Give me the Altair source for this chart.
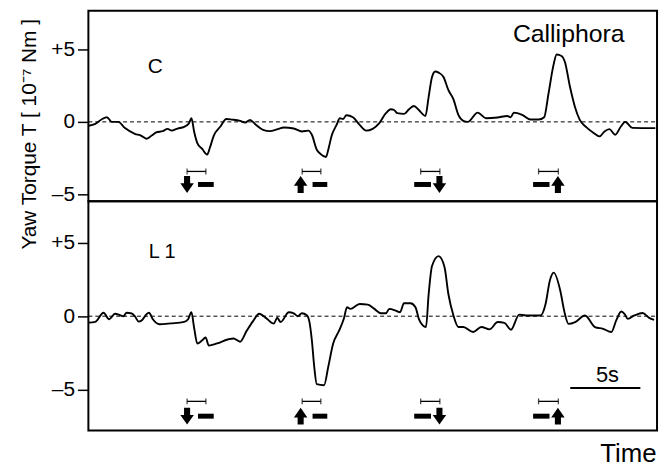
import altair as alt
import pandas as pd

# ---- traced data (time in s, yaw torque in 1e-7 Nm) ----
T_C = [0.02, 0.49, 0.96, 1.32, 1.67, 2.13, 2.61, 3.31, 3.78, 4.13, 4.49, 4.84, 5.30, 5.65, 5.94, 6.36, 6.83,
       7.18, 7.35, 7.54, 7.77, 8.12, 8.47, 8.66, 8.94, 9.42, 9.84, 10.23, 10.82, 11.18, 11.53, 11.88, 12.46,
       12.94, 13.52, 13.94, 14.65, 15.23, 15.70, 15.94, 16.29, 16.53, 16.95, 17.11, 17.35, 17.70, 17.94, 18.17,
       18.40, 18.87, 19.35, 19.81, 20.28, 20.75, 21.22, 21.57, 21.81, 22.04, 22.51, 22.87, 23.22, 23.57, 24.04,
       24.27, 24.51, 24.74, 24.98, 25.33, 25.68, 26.04, 26.39, 26.74, 27.06, 27.77, 28.36, 29.18, 29.88, 30.12,
       30.35, 30.94, 31.53, 32.11, 32.51, 32.82, 33.17, 33.40, 33.75, 33.99, 34.35, 34.70, 35.05, 35.51, 35.99,
       36.46, 36.81, 37.16, 37.58, 37.98, 38.29, 38.80, 40.44]
V_C = [-0.27, -0.14, 0.18, 0.32, 0.0, 0.0, -0.43, -0.82, -0.96, -1.16, -0.96, -0.73, -0.64, -0.48, -0.60, -0.46, -0.34,
       -0.09, 0.25, -0.66, -1.46, -1.87, -2.26, -1.80, -0.96, -0.32, 0.20, 0.16, 0.07, -0.05, 0.14, -0.14, -0.55,
       -0.64, -0.50, -0.39, -0.46, -0.66, -0.60, -0.89, -1.92, -2.19, -2.42, -1.92, -0.96, -0.21, 0.25, 0.20,
       0.46, 0.32, -0.21, -0.60, -0.48, -0.09, 0.60, 0.87, 0.82, 0.60, 0.55, 0.87, 1.10, 0.82, 0.41,
       1.73, 3.10, 3.48, 3.40, 3.10, 2.19, 1.55, 0.48, 0.07, 0.0, 0.64, 0.25, 0.30, 0.41, 0.32,
       0.64, 0.48, 0.16, 0.16, 0.32, 1.96, 3.90, 4.65, 4.55, 4.13, 2.42, 1.05, 0.14, -0.36, -0.73,
       -1.00, -0.66, -0.50, -0.89, -0.32, 0.0, -0.41, -0.43]

T_L1 = [0.02, 0.49, 1.08, 1.48, 1.90, 2.25, 2.49, 2.73, 3.08, 3.31, 3.59, 3.82, 4.13, 4.32, 4.60, 5.07, 5.89,
        6.83, 7.11, 7.35, 7.54, 7.77, 8.08, 8.36, 8.59, 9.18, 10.00, 10.35, 10.82, 11.29, 11.76, 12.18, 12.70,
        13.22, 13.47, 13.71, 14.30, 14.65, 14.93, 15.23, 15.58, 15.77, 15.94, 16.11, 16.29, 16.81, 17.11, 17.46,
        17.89, 18.22, 18.45, 18.68, 19.35, 19.93, 20.40, 20.87, 21.22, 21.46, 21.92, 22.23, 22.51, 22.98, 23.33,
        23.57, 23.85, 24.08, 24.27, 24.51, 24.98, 25.40, 25.68, 26.04, 26.39, 26.74, 27.44, 28.03, 28.61, 29.20,
        29.67, 30.14, 30.73, 31.20, 32.25, 32.61, 32.91, 33.19, 33.66, 33.96, 34.25, 34.72, 35.42, 36.13, 36.71,
        37.30, 37.65, 38.01, 38.24, 38.47, 38.94, 39.53, 40.00, 40.35]
V_L1 = [-0.44, -0.39, 0.24, -0.21, 0.17, 0.08, 0.0, 0.24, 0.19, 0.0, -0.37, -0.28, 0.12, 0.24, -0.21, -0.55, -0.49,
        -0.39, -0.21, 0.28, -0.78, -1.86, -1.68, -1.45, -2.01, -1.86, -1.57, -1.52, -1.74, -1.00, -0.32, 0.17, -0.15,
        -0.51, -0.11, -0.40, 0.27, 0.20, 0.0, 0.20, 0.07, -0.40, -1.64, -3.45, -4.64, -4.71, -3.45, -1.87,
        -0.97, -0.18, 0.61, 0.50, 0.83, 0.79, 0.50, 0.20, 0.20, 0.50, 0.38, 0.27, 0.88, 0.88, 0.61,
        -0.18, -0.63, -0.74, 1.50, 3.43, 4.10, 3.36, 1.50, 0.05, -0.74, -0.74, -1.08, -0.74, -0.90, -0.40,
        -0.45, -0.92, 0.11, 0.05, 0.05, 0.83, 2.41, 2.97, 1.74, 0.27, -0.52, -0.40, 0.05, -0.74, -0.86,
        -1.08, -0.29, 0.32, 0.16, -0.18, 0.05, 0.22, -0.11, -0.25]

TICK_VALUES = [-5, 0, 5]
TICK_LABELS = ["\u20135", "0", "+5"]

# stimulus markers (times in s)
ARROW_T = [7.04, 15.14, 25.04, 33.49]
ARROW_DIR = ["down", "up", "down", "up"]
BAR_T1 = [7.82, 15.99, 23.24, 31.72]
BAR_T2 = [8.94, 17.04, 24.44, 32.89]
BRK_T1 = [7.04, 15.25, 23.70, 32.11]
BRK_T2 = [8.38, 16.58, 25.07, 33.52]

PANEL_NAMES = ["C", "L 1"]
SPECIES = "Calliphora"
SCALE_LABEL = "5s"
SCALE_T = [34.37, 39.37]
Y_TITLE = "Yaw Torque T  [ 10\u207b\u2077 Nm ]"
X_TITLE = "Time"

XDOM = [0, 40.56]
W = 573
FONT = "Liberation Sans"
DOWN = "M-0.36,-1 L0.36,-1 L0.36,-0.15 L0.8,-0.15 L0,1 L-0.8,-0.15 L-0.36,-0.15 Z"
UP = "M-0.36,1 L0.36,1 L0.36,0.15 L0.8,0.15 L0,-1 L-0.8,0.15 L-0.36,0.15 Z"

label_expr = " : ".join(
    f"datum.value == {v} ? '{l}'" for v, l in zip(TICK_VALUES, TICK_LABELS)
) + " : ''"


def panel(t, v, ydom, height, y_brk, y_arr, texts, top):
    xs = alt.Scale(domain=XDOM, nice=False, zero=False)
    ys = alt.Scale(domain=ydom, nice=False, zero=False)
    common_y = dict(values=TICK_VALUES, labelExpr=label_expr, domain=False, grid=False,
                    tickSize=11, tickWidth=1.5, tickColor="black", labelPadding=3,
                    labelFontSize=21, labelColor="black", labelFont=FONT)
    if top:
        xaxis = alt.Axis(labels=False, ticks=False, domain=False, grid=False, title=None)
        yaxis = alt.Axis(title=Y_TITLE, titleFontSize=21, titleFontWeight="normal", titleFont=FONT,
                         titleColor="black", titleX=-53, titleY=124, titleAngle=270,
                         titleBaseline="alphabetic", titleAlign="center", **common_y)
    else:
        xaxis = alt.Axis(title=X_TITLE, labels=False, ticks=False, domain=False, grid=False,
                         titleFontSize=26, titleFontWeight="normal", titleFont=FONT, titleColor="black",
                         titleX=W - 1, titleAlign="right", titleBaseline="top", titleY=10)
        yaxis = alt.Axis(title=None, **common_y)
    X = alt.X("t:Q", scale=xs, axis=xaxis)
    Y = alt.Y("v:Q", scale=ys, axis=yaxis)
    X2 = alt.X2("t2")

    df = pd.DataFrame({"t": t, "v": v})
    line = alt.Chart(df).mark_line(color="black", strokeWidth=1.9, interpolate="monotone").encode(x=X, y=Y)
    zero = alt.Chart(pd.DataFrame({"t": [XDOM[0]], "t2": [XDOM[1]], "v": [0]})).mark_rule(
        color="black", strokeWidth=1, strokeDash=[4, 3]).encode(x=X, x2=X2, y=Y)

    brk = pd.DataFrame({"t": BRK_T1, "t2": BRK_T2, "v": [y_brk] * 4})
    brk_line = alt.Chart(brk).mark_rule(color="black", strokeWidth=1.3).encode(x=X, x2=X2, y=Y)
    ends = pd.DataFrame({"t": BRK_T1 + BRK_T2, "v": [y_brk] * 8})
    brk_ends = alt.Chart(ends).mark_tick(color="black", orient="vertical", size=6, thickness=1.3).encode(
        x=X, y=Y)
    bars = pd.DataFrame({"t": BAR_T1, "t2": BAR_T2, "v": [y_arr] * 4})
    bar_marks = alt.Chart(bars).mark_rule(color="black", strokeWidth=5, strokeCap="butt").encode(
        x=X, x2=X2, y=Y)
    arr = pd.DataFrame({"t": ARROW_T, "v": [y_arr] * 4, "dir": ARROW_DIR})
    arrows = alt.Chart(arr).mark_point(filled=True, color="black", opacity=1, size=289, strokeWidth=0).encode(
        x=X, y=Y,
        shape=alt.Shape("dir:N", scale=alt.Scale(domain=["down", "up"], range=[DOWN, UP]), legend=None))

    layers = [zero, line, brk_line, brk_ends, bar_marks, arrows]
    for (tt, vv, txt, fs) in texts:
        layers.append(alt.Chart(pd.DataFrame({"t": [tt], "v": [vv], "label": [txt]})).mark_text(
            align="left", baseline="alphabetic", fontSize=fs, font=FONT, color="black").encode(
            x=X, y=Y, text="label:N"))
    if not top:
        sb = pd.DataFrame({"t": [SCALE_T[0]], "t2": [SCALE_T[1]], "v": [-4.9]})
        layers.append(alt.Chart(sb).mark_rule(color="black", strokeWidth=2).encode(
            x=X, x2=X2, y=Y))
    return alt.layer(*layers).properties(width=W, height=height)


top_panel = panel(T_C, V_C, [-5.48, 7.67], 192, -3.42, -4.32,
                  [(4.23, 3.36, PANEL_NAMES[0], 21), (30.28, 5.48, SPECIES, 25)], True)
bottom_panel = panel(T_L1, V_L1, [-7.8, 7.84], 231, -5.81, -6.82,
                     [(4.3, 3.99, PANEL_NAMES[1], 20), (36.2, -4.5, SCALE_LABEL, 22)], False)

chart = alt.vconcat(top_panel, bottom_panel, spacing=0, bounds="flush").properties(
    padding={"left": 9, "top": 0, "right": 0, "bottom": 0},
    background="white",
).configure_view(stroke="black", strokeWidth=2)

chart.save("out.html", embed_options={"renderer": "svg", "actions": False})
